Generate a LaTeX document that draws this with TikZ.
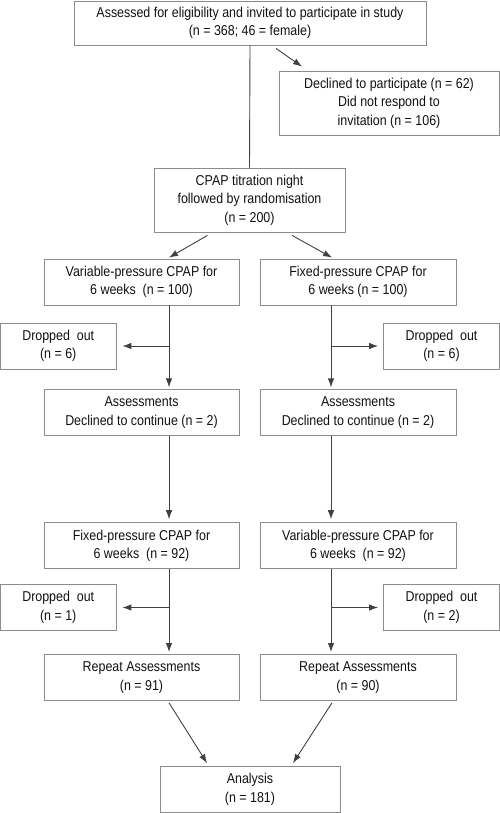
\documentclass[tikz,border=0pt]{standalone}
\usepackage{fontspec}
\setmainfont[FakeStretch=0.87]{Liberation Sans}
\usepackage{xcolor}
\usetikzlibrary{arrows.meta}
\usetikzlibrary{positioning}
\definecolor{boxgray}{HTML}{8C8C8C}
\definecolor{linegray}{HTML}{404040}
\definecolor{textdark}{HTML}{111111}

\begin{document}
\begin{tikzpicture}[x=1pt,y=-1pt]
\tikzset{flowbox/.style={rectangle,draw=boxgray,line width=0.8pt,align=center,text=textdark,inner sep=2pt,font=\fontsize{14.3}{18.5}\selectfont,minimum height=46pt},
link/.style={draw=linegray,line width=0.9pt,>={Latex[length=9pt,width=6.5pt]}}}
\useasboundingbox (0,0) rectangle (500,813);
\coordinate (lx) at (169,0);
\coordinate (rx) at (331,0);
\node[flowbox,minimum width=352pt,minimum height=44pt](a) at (250,23){Assessed for eligibility and invited to participate in study\\(n = 368; 46 = female)};
\node[flowbox,minimum width=220pt,minimum height=64pt](b) at (389,103){Declined to participate (n = 62)\\Did not respond to\\invitation (n = 106)};
\draw[link,->]([shift={(26,3)}]a.south) -- ([shift={(-87,-4)}]b.north);
\node[flowbox,minimum width=191pt,minimum height=64pt](c) at (249.5,200){CPAP titration night\\followed by randomisation\\(n = 200)};
\draw[link](a.south) -- (c.north);
% first period
\node[flowbox,minimum width=195pt](l1) at (141.5,282){Variable-pressure CPAP for\\6 weeks~ (n = 100)};
\node[flowbox,minimum width=196pt](r1) at (358,282){Fixed-pressure CPAP for\\6 weeks (n = 100)};
\draw[link,->]([shift={(-42,3)}]c.south) -- ([shift={(27.5,-1)}]l1.north);
\draw[link,->]([shift={(42.5,3)}]c.south) -- ([shift={(-26,-1)}]r1.north);
\node[flowbox,minimum width=115.5pt](dl1) at (58.25,346){Dropped~ out\\(n = 6)};
\node[flowbox,minimum width=116pt](dr1) at (441.5,346){Dropped~ out\\(n = 6)};
\node[flowbox,minimum width=195pt](l2)[below=84pt of l1]{Assessments\\Declined to continue (n = 2)};
\node[flowbox,minimum width=196pt](r2)[below=84pt of r1]{Assessments\\Declined to continue (n = 2)};
\draw[link,->,shorten >=2pt](l1.south -| lx) -- (l2.north -| lx);
\draw[link,->,shorten >=2pt](r1.south -| rx) -- (r2.north -| rx);
\draw[link,->,shorten >=6pt](lx |- dl1.east) -- (dl1.east);
\draw[link,->,shorten >=5pt](rx |- dr1.west) -- (dr1.west);
% second period
\node[flowbox,minimum width=195pt](l3)[below=86pt of l2]{Fixed-pressure CPAP for\\6 weeks~ (n = 92)};
\node[flowbox,minimum width=196pt](r3)[below=86pt of r2]{Variable-pressure CPAP for\\6 weeks~ (n = 92)};
\draw[link,->,shorten >=3pt](l2.south -| lx) -- (l3.north -| lx);
\draw[link,->,shorten >=3pt](r2.south -| rx) -- (r3.north -| rx);
\node[flowbox,minimum width=115.5pt](dl2) at (58.25,607.5){Dropped~ out\\(n = 1)};
\node[flowbox,minimum width=116pt](dr2) at (441.5,607.5){Dropped~ out\\(n = 2)};
\node[flowbox,minimum width=195pt](l4)[below=85pt of l3]{Repeat Assessments\\(n = 91)};
\node[flowbox,minimum width=196pt](r4)[below=85pt of r3]{Repeat Assessments\\(n = 90)};
\draw[link,->,shorten >=2pt](l3.south -| lx) -- (l4.north -| lx);
\draw[link,->,shorten >=2pt](r3.south -| rx) -- (r4.north -| rx);
\draw[link,->,shorten >=6pt](lx |- dl2.east) -- (dl2.east);
\draw[link,->,shorten >=5pt](rx |- dr2.west) -- (dr2.west);
\node[flowbox,minimum width=180pt](e) at (250,789.5){Analysis\\(n = 181)};
\draw[link,->]([shift={(27.5,2)}]l4.south) -- ([shift={(-43,-3)}]e.north);
\draw[link,->]([shift={(-26,2)}]r4.south) -- ([shift={(43,-3)}]e.north);
\end{tikzpicture}
\end{document}
